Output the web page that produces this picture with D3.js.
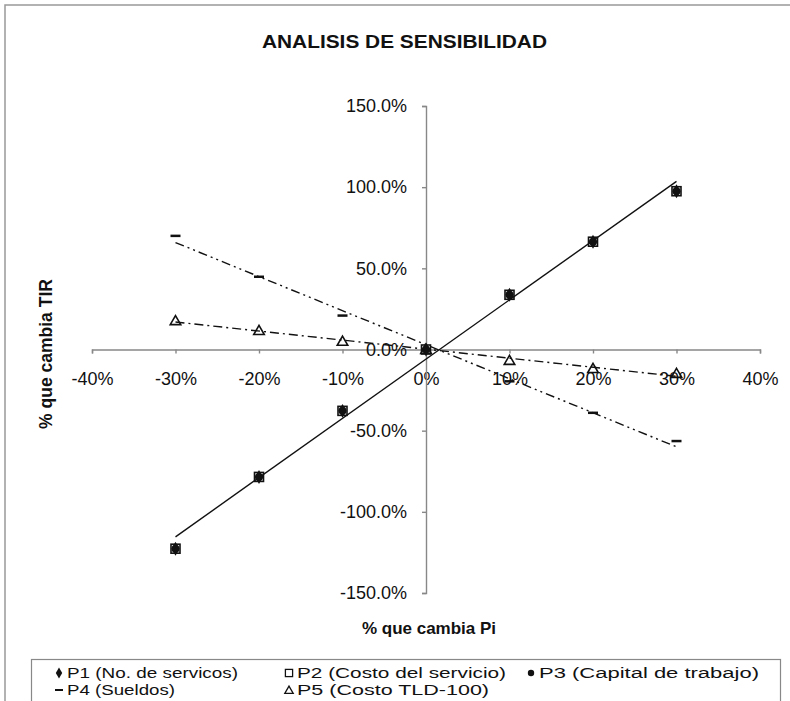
<!DOCTYPE html>
<html>
<head>
<meta charset="utf-8">
<script src="https://cdn.jsdelivr.net/npm/d3@7"></script>
<style>
  body { margin: 0; background: #fff; }
  svg { font-family: "Liberation Sans", Arial, sans-serif; }
</style>
</head>
<body>
<svg id="chart" width="790" height="701"></svg>
<script>
// changes in the parameter Pi
const cambiosPi = [-0.3, -0.2, -0.1, 0, 0.1, 0.2, 0.3];
// change in TIR per series
const p1Servicios = [-1.227, -0.785, -0.378, 0, 0.337, 0.664, 0.975];
const p2Costo = [-1.227, -0.785, -0.378, 0, 0.337, 0.664, 0.975];
const p3Capital = [-1.227, -0.785, -0.378, 0, 0.337, 0.664, 0.975];
const p4Sueldos = [0.70, 0.448, 0.209, 0, -0.196, -0.39, -0.564];
const p5CostoTLD = [0.178, 0.117, 0.051, 0, -0.067, -0.117, -0.147];
const xTicks = [-0.4, -0.3, -0.2, -0.1, 0, 0.1, 0.2, 0.3, 0.4];
const yTicks = [-1.5, -1.0, -0.5, 0, 0.5, 1.0, 1.5];
const legendLabels = ['P1 (No. de servicos)', 'P2 (Costo del servicio)', 'P3 (Capital de trabajo)', 'P4 (Sueldos)', 'P5 (Costo TLD-100)'];

const svg = d3.select('#chart');
const x = d3.scaleLinear().domain([-0.4, 0.4]).range([92, 760]);
const y = d3.scaleLinear().domain([-1.5, 1.5]).range([593, 106]);
const hyphen = f => d => f(d).replace('\u2212', '-');

// outer frame (only top/left edges visible in the picture)
svg.append('path').attr('d', 'M5,701 V5 H790').attr('fill', 'none').attr('stroke', '#999').attr('stroke-width', 1.5);

// the scan is a bit wider than the font, so stretch the text to the measured widths
svg.append('text').attr('x', 262).attr('y', 48)
  .attr('font-size', 19).attr('font-weight', 'bold').attr('fill', '#111')
  .attr('textLength', 285).attr('lengthAdjust', 'spacingAndGlyphs')
  .text('ANALISIS DE SENSIBILIDAD');

// axes cross at zero
const xAxis = svg.append('g').attr('transform', `translate(0,${y(0)})`)
  .call(d3.axisBottom(x).tickValues(xTicks).tickFormat(hyphen(d3.format('.0%'))).tickSize(4).tickPadding(19));
const yAxis = svg.append('g').attr('transform', `translate(${x(0)},0)`)
  .call(d3.axisLeft(y).tickValues(yTicks).tickFormat(hyphen(d3.format('.1%'))).tickSize(4).tickPadding(15));
[xAxis, yAxis].forEach(a => {
  a.selectAll('path, line').attr('stroke', '#888').attr('stroke-width', 1.4);
  a.selectAll('text').attr('font-size', 18).attr('fill', '#111').attr('font-family', '"Liberation Sans", Arial, sans-serif');
});

svg.append('text').attr('x', 429).attr('y', 634).attr('text-anchor', 'middle')
  .attr('font-size', 17).attr('font-weight', 'bold').attr('fill', '#111').text('% que cambia Pi');
svg.append('text').attr('transform', 'translate(52,354) rotate(-90)').attr('text-anchor', 'middle')
  .attr('font-size', 17.5).attr('font-weight', 'bold').attr('fill', '#111').text('% que cambia TIR');

// linear trendline from the points
function trend(vals) {
  const mx = d3.mean(cambiosPi), my = d3.mean(vals);
  const slope = d3.sum(cambiosPi, (c, i) => (c - mx) * (vals[i] - my)) / d3.sum(cambiosPi, c => (c - mx) ** 2);
  const x0 = cambiosPi[0], x1 = cambiosPi[cambiosPi.length - 1];
  return [[x0, my + slope * (x0 - mx)], [x1, my + slope * (x1 - mx)]];
}
const line = d3.line().x(d => x(d[0])).y(d => y(d[1]));
const trends = [
  { vals: p3Capital, dash: null },
  { vals: p4Sueldos, dash: '9,4,2,4,2,4' },
  { vals: p5CostoTLD, dash: '9,4,2,4' }
];
trends.forEach(t => {
  svg.append('path').attr('d', line(trend(t.vals))).attr('fill', 'none')
    .attr('stroke', '#111').attr('stroke-width', 1.4).attr('stroke-dasharray', t.dash);
});

// markers
function marker(g, type, cx, cy, k = 1) {
  if (type === 'diamond') {
    g.append('path').attr('d', d3.symbol(d3.symbolDiamond, 56 * k * k)()).attr('transform', `translate(${cx},${cy})`).attr('fill', '#111');
  } else if (type === 'square') {
    const s = 9 * k;
    g.append('rect').attr('x', cx - s / 2).attr('y', cy - s / 2).attr('width', s).attr('height', s)
      .attr('fill', 'none').attr('stroke', '#111').attr('stroke-width', 1.6 * k);
  } else if (type === 'circle') {
    g.append('circle').attr('cx', cx).attr('cy', cy).attr('r', 4 * k).attr('fill', '#111');
  } else if (type === 'dash') {
    g.append('line').attr('x1', cx - 5 * k).attr('x2', cx + 5 * k).attr('y1', cy).attr('y2', cy)
      .attr('stroke', '#111').attr('stroke-width', 2.5 * k);
  } else if (type === 'triangle') {
    g.append('path').attr('d', d3.symbol(d3.symbolTriangle, 48 * k * k)()).attr('transform', `translate(${cx},${cy + 1})`)
      .attr('fill', 'none').attr('stroke', '#111').attr('stroke-width', 1.6 * k);
  }
}
const series = [
  { vals: p1Servicios, type: 'diamond' },
  { vals: p2Costo, type: 'square' },
  { vals: p3Capital, type: 'circle' },
  { vals: p4Sueldos, type: 'dash' },
  { vals: p5CostoTLD, type: 'triangle' }
];
const marks = svg.append('g');
series.forEach(s => {
  s.vals.forEach((v, i) => marker(marks, s.type, x(cambiosPi[i]), y(v)));
});

// legend
const legend = svg.append('g');
legend.append('rect').attr('x', 31.5).attr('y', 659.5).attr('width', 749).attr('height', 50)
  .attr('fill', '#fff').attr('stroke', '#888').attr('stroke-width', 1.2);
const legendPos = [[59, 678], [289, 678], [531, 678], [59, 695], [289, 695]];
const legendWidths = [171, 209, 220, 108, 192];
legendLabels.forEach((lab, i) => {
  const [lx, ly] = legendPos[i];
  marker(legend, series[i].type, lx, ly - 5, 0.8);
  legend.append('text').attr('x', lx + 8).attr('y', ly).attr('font-size', 14).attr('fill', '#111')
    .attr('textLength', legendWidths[i]).attr('lengthAdjust', 'spacingAndGlyphs').text(lab);
});
</script>
</body>
</html>
